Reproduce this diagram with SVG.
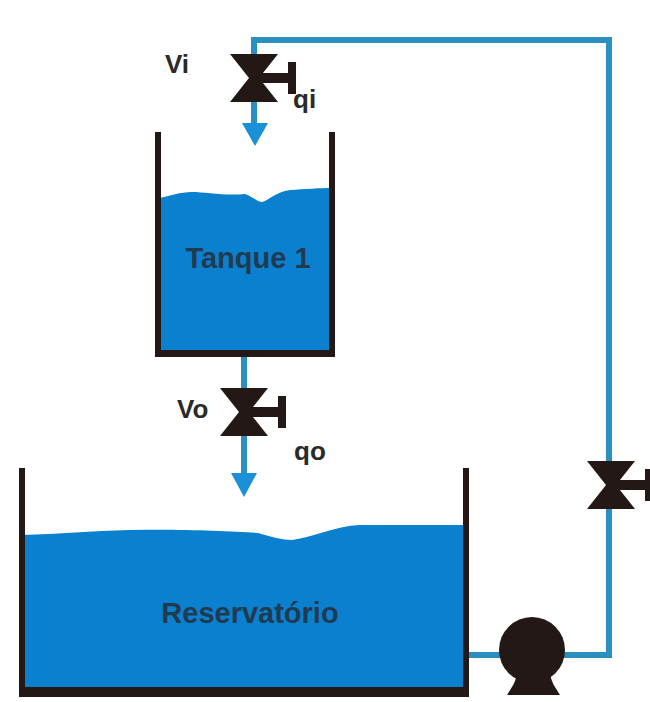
<svg xmlns="http://www.w3.org/2000/svg" width="650" height="702" viewBox="0 0 650 702">
<defs>
<g id="valve"><path d="M-24-24H24L5 0 24 24H-24L-5 0Z" fill="#231815"/><path d="M0-5H34V-16H42V16H34V5H0Z" fill="#231815"/></g>
</defs>
<style>
.pipe{fill:none;stroke:#2b8fc0;stroke-width:6}
.wall{fill:none;stroke:#231815;stroke-width:6}
.base{fill:#231815}
.water{fill:#0a80cf}
.head{fill:#1a90d8}
text{font-family:"Liberation Sans",Arial,sans-serif;font-weight:700;fill:#2a2a2a}
.in{fill:#203a50;font-size:29px}
.lb{font-size:26px}
</style>
<rect width="650" height="702" fill="#fff"/>
<g id="connectors">
<path class="pipe" d="M254 125V40H609V655H468"/>
<path class="pipe" d="M244 356V475"/>
<path class="head" d="M242 123H268L255 146Z"/>
<path class="head" d="M231 473H257L244 497Z"/>
</g>
<g id="tanque1">
<path class="water" d="M159 198C170 196 180 192 192 192C205 192 225 196 245 194C252 196 257 202 262 202C270 200 275 192 290 190C305 189 320 188 332 188V352H159Z"/>
<path class="wall" d="M158 132V353H332V132"/>
<rect class="base" x="155" y="350" width="180" height="7"/>
<text class="in" x="248" y="268" text-anchor="middle">Tanque 1</text>
</g>
<g id="reservatorio">
<path class="water" d="M22 535C60 534 90 531 130 530C180 529 230 531 258 533C272 537 282 540 292 540C310 538 335 526 360 525L466 525V690H22Z"/>
<path class="wall" d="M22 468V690H466V468"/>
<rect class="base" x="19" y="688" width="450" height="9"/>
<text class="in" x="250" y="623" text-anchor="middle">Reservatório</text>
</g>
<g id="valvula-vi"><use href="#valve" x="254" y="78"/>
<text class="lb" x="165" y="73">Vi</text><text class="lb" x="293" y="108">qi</text></g>
<g id="valvula-vo"><use href="#valve" x="244" y="412"/>
<text class="lb" x="177" y="418">Vo</text><text class="lb" x="294" y="460">qo</text></g>
<g id="valvula-retorno"><use href="#valve" x="611" y="485"/></g>
<g id="bomba">
<circle cx="532" cy="650" r="33" fill="#231815"/>
<path d="M517 670H550C550 682 556 688 560 695H507C511 688 517 682 517 670Z" fill="#231815"/>
</g>
</svg>
